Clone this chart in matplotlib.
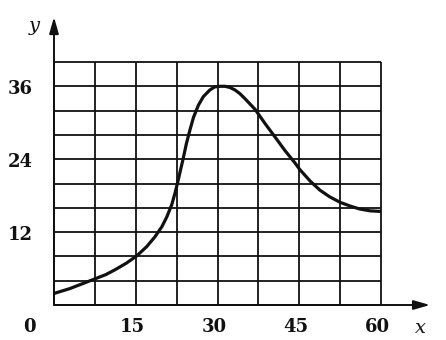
import numpy as np
import matplotlib.pyplot as plt

# curve
x_pts = [0, 2.9, 5.2, 7.5, 9.5, 11.2, 13.3, 15.2, 17.0, 18.5, 19.8, 20.7, 21.6,
         22.2, 22.8, 23.7, 24.3, 25.0, 25.6, 26.5, 27.4, 28.6, 29.5, 30.5, 31.4,
         32.3, 33.2, 34.1, 35.0, 36.9, 38.7, 40.6, 42.4, 44.2, 45.1, 47.0, 48.8,
         50.6, 52.5, 54.3, 56.1, 58.0, 60]
y_pts = [1.9, 2.7, 3.5, 4.3, 5.0, 5.8, 6.9, 8.1, 9.6, 11.2, 12.9, 14.5, 16.5,
         18.4, 20.6, 24.1, 26.6, 29.0, 30.9, 32.9, 34.3, 35.4, 35.9, 36.0, 36.0,
         35.8, 35.4, 34.8, 34.0, 32.2, 29.9, 27.6, 25.4, 23.4, 22.3, 20.4, 18.9,
         17.8, 16.9, 16.3, 15.8, 15.5, 15.4]

x_ticks = [0, 15, 30, 45, 60]
y_ticks = [12, 24, 36]

fig = plt.figure(figsize=(4.46, 3.4), dpi=100)
ax = fig.add_axes([54 / 446, 35 / 340, 327 / 446, 243 / 340])
ax.set_xlim(0, 60)
ax.set_ylim(0, 40)
ax.axis('off')

ink = '#111111'

# grid
ax.vlines(np.arange(0, 60.1, 7.5), 0, 40, color=ink, lw=1.3, clip_on=False)
ax.hlines(np.arange(0, 40.1, 4), 0, 60, color=ink, lw=1.3, clip_on=False)

# axes with arrows
arrow = dict(arrowstyle='-|>,head_length=0.7,head_width=0.2', color=ink, lw=1.4,
             mutation_scale=14, shrinkA=0, shrinkB=0)
ax.annotate('', xy=(69.0, 0), xytext=(0, 0), arrowprops=arrow,
            annotation_clip=False)
ax.annotate('', xy=(0, 47.4), xytext=(0, 0), arrowprops=arrow,
            annotation_clip=False)

# curve
ax.plot(x_pts, y_pts, color=ink, lw=2.3, solid_joinstyle='round',
        solid_capstyle='butt', clip_on=False)

tick_font = dict(family='DejaVu Serif', fontweight='bold', fontsize=13, color=ink)
for t in x_ticks:
    xt = -4.5 if t == 0 else t - 0.6
    ax.text(xt, -3.6, str(t), ha='center', va='center', **tick_font)
for t in y_ticks:
    ax.text(-6.2, t - 0.4, str(t), ha='center', va='center', **tick_font)

lab_font = dict(family='DejaVu Serif', style='italic', fontsize=14, color=ink)
ax.text(67.2, -3.8, 'x', ha='center', va='center', **lab_font)
ax.text(-3.6, 45.9, 'y', ha='center', va='center', **lab_font)

fig.savefig('out.png', dpi=100)
